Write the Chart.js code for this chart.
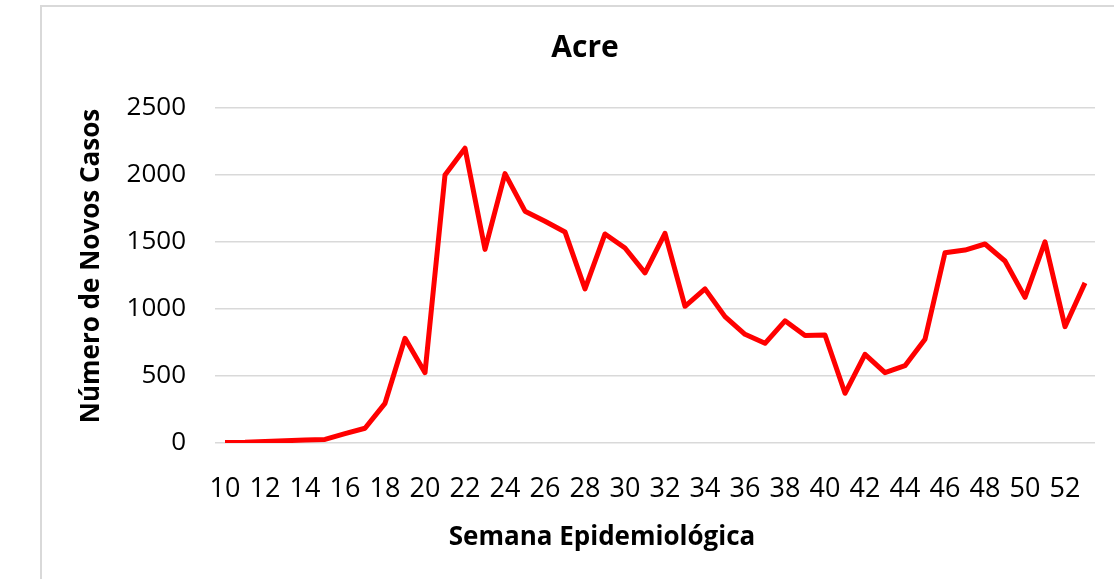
<!DOCTYPE html>
<html lang="pt">
<head>
    <meta charset="UTF-8">
    <title>Acre</title>
    <script src="https://cdn.jsdelivr.net/npm/chart.js"></script>
    <style>
        html, body {
            margin: 0;
            padding: 0;
            background: #fff;
            width: 1114px;
            height: 579px;
            overflow: hidden;
        }
        #frame {
            position: absolute;
            left: 40px;
            top: 5px;
            width: 1100px;
            height: 600px;
            border: 2px solid #d9d9d9;
        }
        #chartContainer {
            position: absolute;
            left: 0;
            top: 0;
            width: 1114px;
            height: 579px;
        }
    </style>
</head>
<body>
    <div id="frame"></div>
    <div id="chartContainer">
        <canvas id="lineChart"></canvas>
    </div>

    <script>
        const semanas = ['10','11','12','13','14','15','16','17','18','19','20','21','22','23','24','25','26','27','28','29','30','31',
                         '32','33','34','35','36','37','38','39','40','41','42','43','44','45','46','47','48','49','50','51','52','53'];
        const novosCasos = [3, 5, 12, 17, 22, 27, 70, 110, 296, 781, 525, 2000, 2200, 1445, 2010, 1730, 1655, 1575, 1150, 1560, 1455, 1270,
                            1565, 1020, 1150, 943, 811, 744, 912, 802, 806, 371, 662, 525, 577, 774, 1420, 1440, 1485, 1358, 1087, 1502, 868, 1195];
        const yTicks = [0, 500, 1000, 1500, 2000, 2500];

        const tituloX = 'Semana Epidemiológica';
        const tituloY = 'Número de Novos Casos';

        const fontFamily = '"Open Sans", "Noto Sans", sans-serif';

        // axis titles sit off-centre in the original, so draw them by hand
        const axisTitles = {
            id: 'axisTitles',
            afterDraw(chart) {
                const ctx = chart.ctx;
                ctx.save();
                ctx.fillStyle = '#000';
                ctx.font = 'bold 26px ' + fontFamily;
                ctx.textAlign = 'center';
                ctx.textBaseline = 'middle';
                ctx.fillText(tituloX, 602, 538);
                ctx.translate(92, 266);
                ctx.rotate(-Math.PI / 2);
                ctx.fillText(tituloY, 0, 0);
                ctx.restore();
            }
        };

        new Chart(document.getElementById('lineChart').getContext('2d'), {
            type: 'line',
            data: {
                labels: semanas,
                datasets: [{
                    data: novosCasos,
                    borderColor: '#ff0000',
                    borderWidth: 5,
                    borderJoinStyle: 'round',
                    pointRadius: 0,
                    tension: 0,
                    fill: false
                }]
            },
            plugins: [axisTitles],
            options: {
                responsive: true,
                maintainAspectRatio: false,
                animation: false,
                layout: {
                    padding: { left: 75, top: 0, right: 19, bottom: 0 }
                },
                plugins: {
                    legend: { display: false },
                    tooltip: { enabled: false },
                    title: {
                        display: true,
                        text: 'Acre',
                        color: '#000',
                        font: { family: fontFamily, size: 30, weight: 'bold' },
                        padding: { top: 30, bottom: 42 }
                    }
                },
                scales: {
                    x: {
                        type: 'category',
                        offset: true,
                        grid: { display: false },
                        border: { display: false },
                        ticks: {
                            autoSkip: false,
                            maxRotation: 0,
                            color: '#000',
                            padding: 22,
                            font: { family: fontFamily, size: 27 },
                            callback: (v, i) => (i % 2 === 0 ? semanas[i] : '')
                        },
                        afterFit: (scale) => { scale.height = 136; }
                    },
                    y: {
                        min: yTicks[0],
                        max: yTicks[yTicks.length - 1],
                        grid: { color: '#d9d9d9', lineWidth: 1.5, drawTicks: false },
                        border: { display: false },
                        afterBuildTicks: (scale) => { scale.ticks = yTicks.map(v => ({ value: v })); },
                        ticks: {
                            color: '#000',
                            padding: 29,
                            font: { family: fontFamily, size: 26 },
                            callback: (v) => String(v)
                        },
                        afterFit: (scale) => { scale.width = 140; }
                    }
                }
            }
        });
    </script>
</body>
</html>
